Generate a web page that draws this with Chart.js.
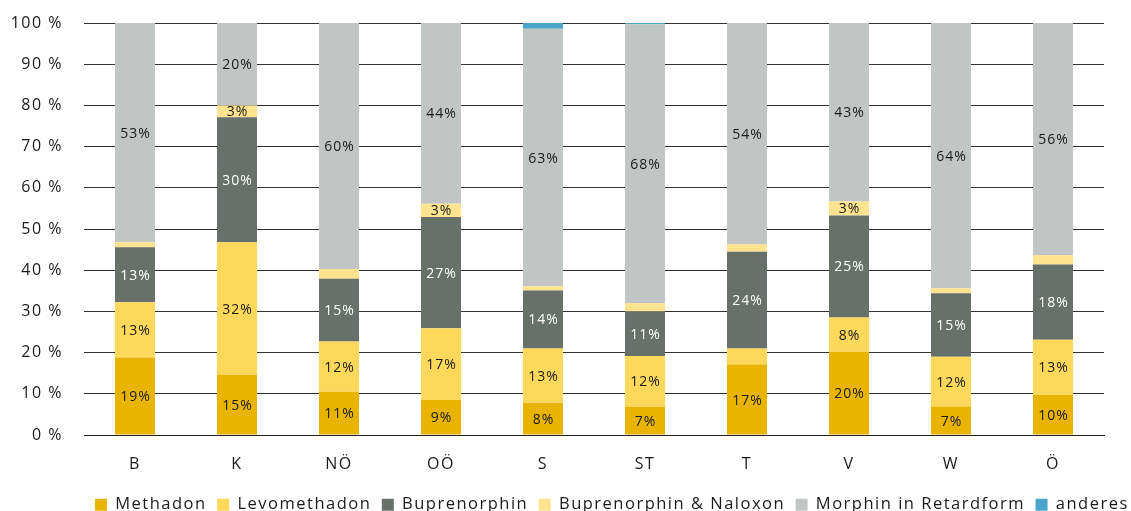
<!DOCTYPE html>
<html>
<head>
<meta charset="utf-8">
<script src="https://cdn.jsdelivr.net/npm/chart.js@4/dist/chart.umd.min.js"></script>
<style>
  html, body { margin: 0; padding: 0; background: #fff; }
  #wrap { width: 1131px; height: 511px; }
</style>
</head>
<body>
<div id="wrap"><canvas id="c" width="1131" height="511"></canvas></div>
<script>
// Bundesländer
const categories = ['B', 'K', 'NÖ', 'OÖ', 'S', 'ST', 'T', 'V', 'W', 'Ö'];

// Anteile der Substitutionsmittel in Prozent
const methadon     = [18.8, 14.6, 10.5,  8.5,  7.8,  6.8, 17.1, 20.2,  6.9,  9.7];
const levomethadon = [13.4, 32.2, 12.2, 17.4, 13.2, 12.4,  3.9,  8.3, 12.1, 13.4];
const buprenorphin = [13.4, 30.3, 15.2, 27.0, 14.1, 10.8, 23.5, 24.8, 15.4, 18.3];
const bupNaloxon   = [ 1.2,  2.9,  2.4,  3.2,  1.0,  2.0,  1.8,  3.4,  1.2,  2.2];
const morphin      = [53.2, 20.0, 59.7, 43.9, 62.5, 67.7, 53.7, 43.3, 64.4, 56.4];
const anderes      = [ 0,    0,    0,    0,    1.4,  0.3,  0,    0,    0,    0  ];

const yTicks = [0, 10, 20, 30, 40, 50, 60, 70, 80, 90, 100];

// Segments whose value label is left out
const hiddenLabels = [['T', 'Levomethadon']];
const minLabelValue = 2.5;

const FONT = "'Open Sans', 'Noto Sans', sans-serif";
Chart.defaults.font.family = FONT;
Chart.defaults.color = '#1a1a1a';

const seriesDefs = [
  { label: 'Methadon',               data: methadon,     color: '#E8B400', text: '#1a1a1a' },
  { label: 'Levomethadon',           data: levomethadon, color: '#FDD85B', text: '#1a1a1a' },
  { label: 'Buprenorphin',           data: buprenorphin, color: '#67716A', text: '#ffffff' },
  { label: 'Buprenorphin & Naloxon', data: bupNaloxon,   color: '#FFE38E', text: '#1a1a1a' },
  { label: 'Morphin in Retardform',  data: morphin,      color: '#C1C6C4', text: '#1a1a1a' },
  { label: 'anderes',                data: anderes,      color: '#4BA4CA', text: '#1a1a1a' }
];

// letter spacing for all chart text
const tracking = {
  id: 'tracking',
  beforeUpdate(chart) { chart.ctx.letterSpacing = '1.5px'; },
  beforeLayout(chart) { chart.ctx.letterSpacing = '1.5px'; },
  beforeDraw(chart) { chart.ctx.letterSpacing = '1.5px'; }
};

// legend row sits lower and further right than the default centred place
const legendPlacement = {
  id: 'legendPlacement',
  afterLayout(chart) {
    const lg = chart.legend;
    if (!lg || !lg.lineWidths) return;
    const pad = lg.options.labels.padding;
    const start = (lg.left + pad + lg.right - lg.lineWidths[0]) / 2;
    const dx = 95 - start;
    const dy = 12;
    lg.left += dx; lg.right += dx;
    lg.top += dy; lg.bottom += dy;
  }
};

// value labels centred in each bar segment
const segmentLabels = {
  id: 'segmentLabels',
  afterDatasetsDraw(chart) {
    const ctx = chart.ctx;
    ctx.save();
    ctx.letterSpacing = '1px';
    ctx.font = '14px ' + FONT;
    ctx.textAlign = 'center';
    ctx.textBaseline = 'middle';
    chart.data.datasets.forEach((ds, di) => {
      const meta = chart.getDatasetMeta(di);
      meta.data.forEach((bar, i) => {
        const v = ds.data[i];
        if (v < minLabelValue) return;
        if (hiddenLabels.some(h => h[0] === categories[i] && h[1] === ds.label)) return;
        ctx.fillStyle = ds.labelColor;
        ctx.fillText(Math.round(v) + '%', bar.x + 0.5, (bar.y + bar.base) / 2 + 1);
      });
    });
    ctx.restore();
  }
};

new Chart(document.getElementById('c'), {
  type: 'bar',
  data: {
    labels: categories,
    datasets: seriesDefs.map(s => ({
      label: s.label,
      data: s.data,
      backgroundColor: s.color,
      borderWidth: 0,
      labelColor: s.text,
      categoryPercentage: 1.0,
      barPercentage: 0.392
    }))
  },
  options: {
    responsive: false,
    animation: false,
    layout: { padding: { top: 23, right: 27, left: 0, bottom: 0 } },
    plugins: {
      tooltip: { enabled: false },
      legend: {
        position: 'bottom',
        labels: {
          boxWidth: 12,
          boxHeight: 12,
          padding: 10.5,
          color: '#1a1a1a',
          font: { size: 16.5, family: FONT }
        }
      }
    },
    scales: {
      x: {
        stacked: true,
        grid: { display: false, drawTicks: false },
        border: { display: true, color: '#222', width: 1 },
        ticks: { padding: 20, color: '#1a1a1a', font: { size: 16, family: FONT } },
        afterFit(scale) { scale.height = 39; }
      },
      y: {
        stacked: true,
        min: 0,
        max: 100,
        afterBuildTicks(scale) { scale.ticks = yTicks.map(v => ({ value: v })); },
        grid: { color: '#333', lineWidth: 1, drawTicks: false },
        border: { display: false },
        ticks: {
          padding: 21,
          color: '#1a1a1a',
          font: { size: 16, family: FONT },
          callback: v => v + ' %'
        },
        afterFit(scale) {
          scale.width = 84;
          scale.paddingTop = 0;
          scale.paddingBottom = 0;
        }
      }
    }
  },
  plugins: [tracking, legendPlacement, segmentLabels]
});
</script>
</body>
</html>
